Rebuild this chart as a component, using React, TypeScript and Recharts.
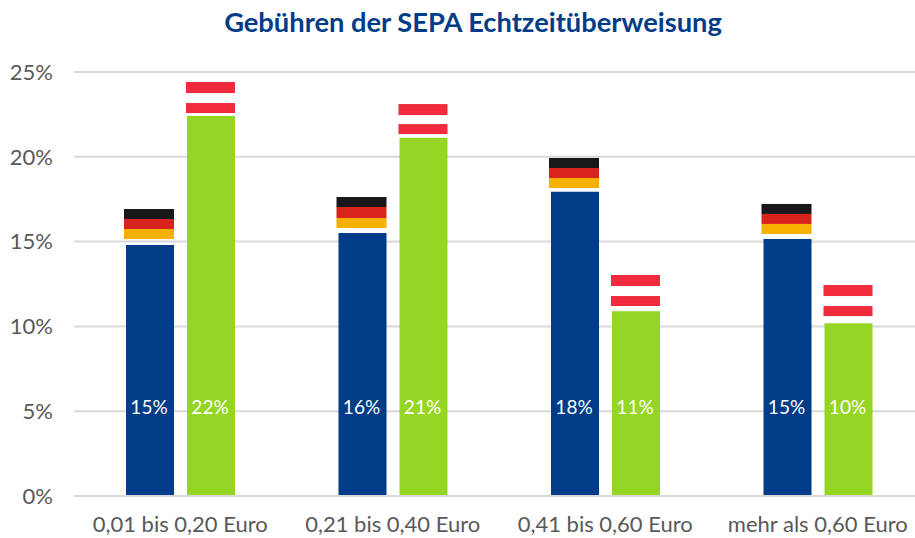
import { BarChart, Bar, XAxis, YAxis, CartesianGrid, LabelList } from 'recharts'

const categories = ['0,01 bis 0,20 Euro', '0,21 bis 0,40 Euro', '0,41 bis 0,60 Euro', 'mehr als 0,60 Euro']
const yTicks = [0, 5, 10, 15, 20, 25]

// Germany: blue bar, then the flag floating above it
const germany = [14.8, 15.5, 17.94, 15.15]
const germanyGap = [0.35, 0.3, 0.22, 0.3]
const flagGold = [0.59, 0.59, 0.59, 0.59]
const flagRed = [0.59, 0.65, 0.59, 0.59]
const flagBlack = [0.59, 0.59, 0.59, 0.59]
const germanyLabels = ['15%', '16%', '18%', '15%']

// Austria: green bar, then the two red stripes of the flag
const austria = [22.4, 21.13, 10.89, 10.18]
const austriaGap = [0.18, 0.21, 0.31, 0.43]
const stripeLower = [0.59, 0.59, 0.59, 0.59]
const stripeWhite = [0.59, 0.53, 0.59, 0.59]
const stripeUpper = [0.65, 0.65, 0.65, 0.65]
const austriaLabels = ['22%', '21%', '11%', '10%']

const data = categories.map((name, i) => ({
  name,
  germany: germany[i],
  germanyGap: germanyGap[i],
  flagGold: flagGold[i],
  flagRed: flagRed[i],
  flagBlack: flagBlack[i],
  austria: austria[i],
  austriaGap: austriaGap[i],
  stripeLower: stripeLower[i],
  stripeWhite: stripeWhite[i],
  stripeUpper: stripeUpper[i],
}))

const font = 'Lato, sans-serif'

// the flags are a little wider than the bars and sit slightly to the left
function FlagBand(props: any) {
  const { x, y, width, height, fill } = props
  return <rect x={x - 2} y={y} width={width + 2} height={height} fill={fill} />
}

function StripeBand(props: any) {
  const { x, y, width, height, fill } = props
  return <rect x={x - 1} y={y} width={width + 1} height={height} fill={fill} />
}

export default function App() {
  return (
    <div style={{ position: 'absolute', left: 0, top: 0, width: 915, height: 538, background: '#fff', overflow: 'hidden' }}>
      <div
        style={{
          position: 'absolute',
          top: 5,
          left: 0,
          width: 946,
          textAlign: 'center',
          fontFamily: font,
          fontWeight: 700,
          fontSize: 27.3,
          color: '#003c87',
        }}
      >
        Gebühren der SEPA Echtzeitüberweisung
      </div>
      <BarChart
        width={915}
        height={538}
        data={data}
        margin={{ top: 72, right: -9, bottom: 12, left: 0 }}
        barSize={48}
        barGap={13}
      >
        <CartesianGrid vertical={false} stroke="#D9D9D9" strokeWidth={2} />
        <XAxis
          dataKey="name"
          axisLine={{ stroke: '#D9D9D9', strokeWidth: 2 }}
          tickLine={false}
          interval={0}
          tickMargin={14}
          tick={{ fill: '#595959', fontSize: 22, fontFamily: font }}
        />
        <YAxis
          width={74}
          domain={[0, 25]}
          ticks={yTicks}
          tickFormatter={(v: number) => v + '%'}
          axisLine={false}
          tickLine={false}
          tickMargin={15}
          tick={{ fill: '#595959', fontSize: 22, fontFamily: font }}
        />
        <Bar dataKey="germany" stackId="de" fill="#003c87" isAnimationActive={false}>
          <LabelList
            content={(p: any) => (
              <text x={p.x + p.width / 2 - 1} y={p.y + p.height - 82} textAnchor="middle" fill="#fff" fontSize={19} fontFamily={font}>
                {germanyLabels[p.index]}
              </text>
            )}
          />
        </Bar>
        <Bar dataKey="germanyGap" stackId="de" fill="transparent" isAnimationActive={false} />
        <Bar dataKey="flagGold" stackId="de" fill="#f5b000" shape={FlagBand} isAnimationActive={false} />
        <Bar dataKey="flagRed" stackId="de" fill="#d8241c" shape={FlagBand} isAnimationActive={false} />
        <Bar dataKey="flagBlack" stackId="de" fill="#1a171b" shape={FlagBand} isAnimationActive={false} />
        <Bar dataKey="austria" stackId="at" fill="#95d523" isAnimationActive={false}>
          <LabelList
            content={(p: any) => (
              <text x={p.x + p.width / 2 - 1} y={p.y + p.height - 82} textAnchor="middle" fill="#fff" fontSize={19} fontFamily={font}>
                {austriaLabels[p.index]}
              </text>
            )}
          />
        </Bar>
        <Bar dataKey="austriaGap" stackId="at" fill="transparent" isAnimationActive={false} />
        <Bar dataKey="stripeLower" stackId="at" fill="#f02b3c" shape={StripeBand} isAnimationActive={false} />
        <Bar dataKey="stripeWhite" stackId="at" fill="transparent" isAnimationActive={false} />
        <Bar dataKey="stripeUpper" stackId="at" fill="#f02b3c" shape={StripeBand} isAnimationActive={false} />
      </BarChart>
    </div>
  )
}
